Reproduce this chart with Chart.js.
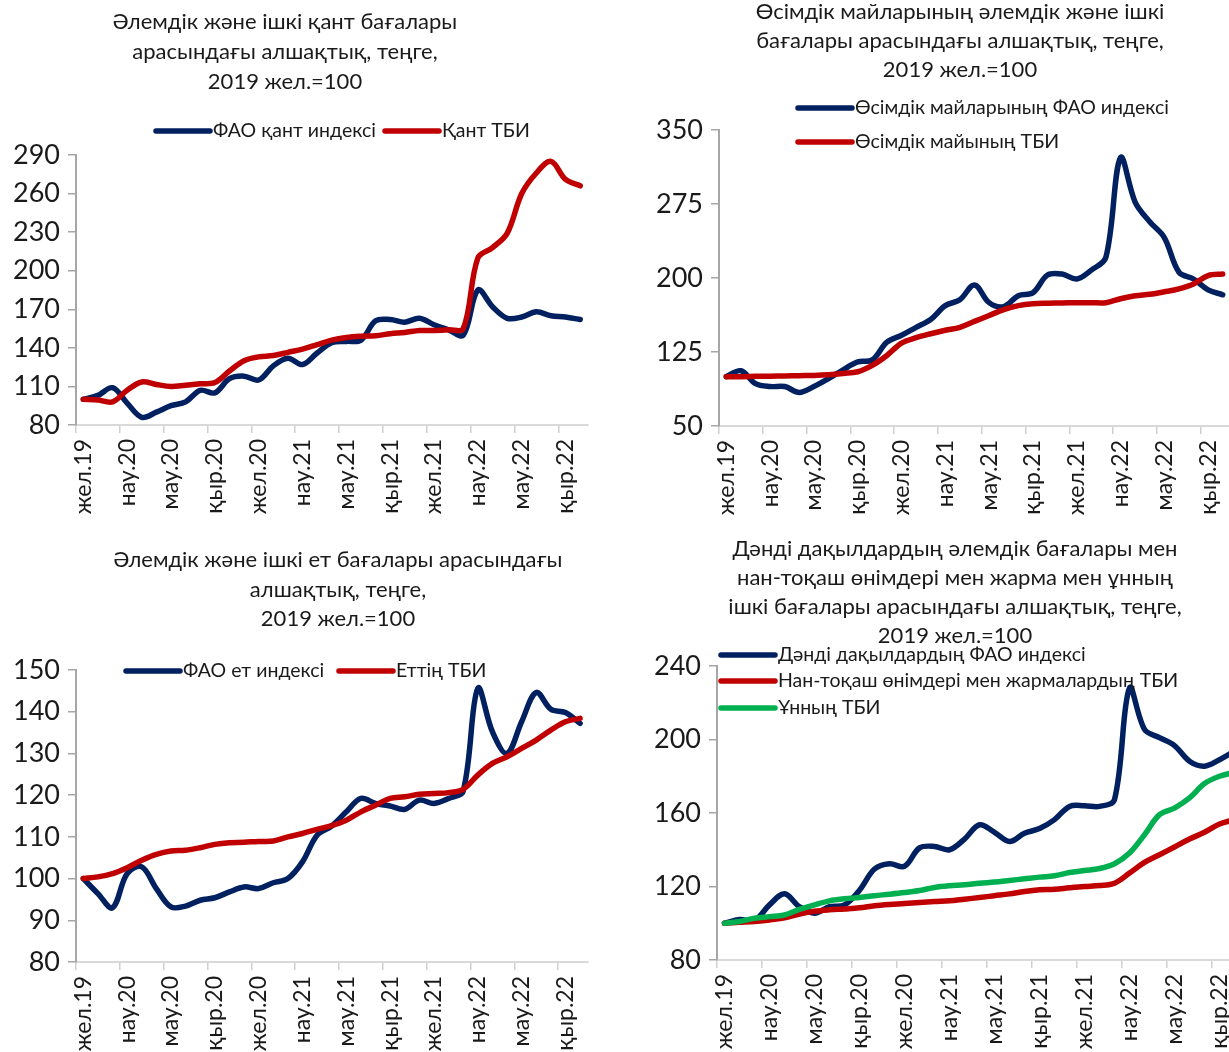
<!DOCTYPE html>
<html>
<head>
<meta charset="utf-8">
<script src="https://cdn.jsdelivr.net/npm/chart.js@4.4.1/dist/chart.umd.min.js"></script>
<style>
    html, body { margin: 0; padding: 0; background: #fff; overflow: hidden; width: 1229px; height: 1052px; }
    canvas { position: absolute; }
</style>
</head>
<body>
<canvas id="sugarChart"></canvas>
<canvas id="oilChart"></canvas>
<canvas id="meatChart"></canvas>
<canvas id="grainChart"></canvas>
<script>
// ===== Price gap charts, Dec 2019 = 100 =====

const months = [
    'жел.19', 'қаң.20', 'ақп.20', 'нау.20', 'сәу.20', 'мам.20', 'мау.20', 'шіл.20', 'там.20', 'қыр.20', 'қаз.20', 'қар.20',
    'жел.20', 'қаң.21', 'ақп.21', 'нау.21', 'сәу.21', 'мам.21', 'мау.21', 'шіл.21', 'там.21', 'қыр.21', 'қаз.21', 'қар.21',
    'жел.21', 'қаң.22', 'ақп.22', 'нау.22', 'сәу.22', 'мам.22', 'мау.22', 'шіл.22', 'там.22', 'қыр.22', 'қаз.22'
];

// Sugar
const sugarFao = [100, 103, 109, 97, 86, 90, 95, 98, 107, 105, 116, 118, 115, 126, 132, 127, 136, 144, 145, 146,
    161, 162, 160, 163, 158, 154, 150, 185, 172, 163, 164, 168, 165, 164, 162];
const sugarCpi = [100, 99.5, 98, 107, 113.5, 111.5, 110, 111, 112, 113, 122, 130, 133, 134, 136.5, 139, 142.5, 146, 148, 149,
    149.5, 151, 152, 153.5, 153.5, 154, 155, 210, 218, 229, 260, 276, 285, 271, 266];

// Vegetable oils
const oilFao = [100, 106, 93, 90, 90, 84, 90, 98, 107, 115, 117, 135, 142, 150, 158, 172, 178, 193, 175, 171,
    182, 185, 203, 204, 199, 208, 221, 322, 277, 257, 241, 206, 199, 188, 183];
const oilCpi = [100, 100, 100.3, 100.5, 100.7, 101, 101.3, 102, 103.3, 105, 111.5, 121.5, 134, 139.5, 143.5, 147, 150, 156, 162, 168,
    172, 174, 174.5, 174.7, 175, 175, 175, 179, 182, 183.5, 186, 189, 194, 202.5, 204];

// Meat
const meatFao = [100, 96.4, 93, 101.2, 102.8, 97.6, 93.2, 93.4, 94.8, 95.4, 96.8, 98, 97.6, 99, 100, 104, 110.4, 112.6, 116, 119.2,
    118, 117.4, 116.6, 118.8, 118, 119.2, 121, 145.6, 135.2, 130, 137.6, 144.6, 140.6, 139.8, 137.2];
const meatCpi = [100, 100.4, 101.2, 102.6, 104.4, 105.8, 106.6, 106.8, 107.4, 108.2, 108.6, 108.7, 108.9, 109, 110, 110.8, 111.8, 112.7, 114, 116,
    117.6, 119.2, 119.6, 120.2, 120.4, 120.6, 121.4, 124.8, 127.6, 129.2, 131.2, 133.2, 135.6, 137.6, 138.4];

// Grains, bread and flour
const grainFao = [100, 102, 101.5, 110, 116, 109, 105.5, 109, 110, 118, 129.5, 132.4, 131, 141, 141.8, 140, 145.8, 153.6, 149.5, 144.5,
    149, 151.5, 156.4, 163.6, 164, 163.6, 167.3, 228, 205.5, 201, 196.7, 188.2, 185.5, 189, 193.6];
const breadCpi = [100, 100.5, 101, 101.8, 103, 105, 106.5, 107.3, 107.8, 108.4, 109.5, 110.2, 110.7, 111.3, 111.8, 112.2, 113.1, 114, 115, 116,
    117.3, 118.2, 118.5, 119.3, 120, 120.5, 121.8, 127.3, 133.1, 137.3, 141.5, 145.8, 149.5, 154, 156.4];
const flourCpi = [100, 101, 102.7, 103.6, 104.5, 107.6, 110, 112.2, 113.3, 114, 115, 115.8, 116.7, 117.8, 119.5, 120.4, 120.9, 121.8, 122.4, 123.3,
    124.2, 125.1, 125.8, 127.6, 128.7, 129.8, 132.4, 138.2, 148.2, 159.1, 162.7, 168.2, 176, 180, 182.2];

const BLUE = '#002060';
const RED = '#C00000';
const GREEN = '#00B050';
const FONT = 'Lato, "Open Sans", sans-serif';
const TEXT = '#1a1a1a';

// Titles and legends drawn on the canvas at fixed page positions
const panelText = {
    id: 'panelText',
    afterDraw(chart, args, opts) {
        const ctx = chart.ctx;
        ctx.save();
        ctx.fillStyle = TEXT;
        ctx.textBaseline = 'middle';
        ctx.textAlign = 'center';
        ctx.font = `22px ${FONT}`;
        opts.title.lines.forEach((line, i) => {
            ctx.fillText(line, opts.title.x - opts.ox, opts.title.y + i * opts.title.gap - opts.oy);
        });
        ctx.textAlign = 'left';
        ctx.font = `19.5px ${FONT}`;
        opts.legend.forEach(item => {
            const y = item.y - opts.oy;
            ctx.strokeStyle = item.color;
            ctx.lineWidth = 5.5;
            ctx.lineCap = 'round';
            ctx.beginPath();
            ctx.moveTo(item.x - opts.ox, y);
            ctx.lineTo(item.x + 54 - opts.ox, y);
            ctx.stroke();
            ctx.fillText(item.text, item.x + 57 - opts.ox, y);
        });
        ctx.restore();
    }
};

function buildChart(id, box, area, yRange, series, title, legend) {
    const canvas = document.getElementById(id);
    canvas.width = box.w;
    canvas.height = box.h;
    canvas.style.left = box.x + 'px';
    canvas.style.top = box.y + 'px';
    const xHeight = 90;

    return new Chart(canvas, {
        type: 'line',
        data: {
            labels: months,
            datasets: series.map(s => ({
                label: s.label,
                data: s.data,
                borderColor: s.color,
                borderWidth: 5.5,
                borderCapStyle: 'round',
                borderJoinStyle: 'round',
                pointRadius: 0,
                tension: 0.35,
                fill: false,
                order: s.order
            }))
        },
        options: {
            responsive: false,
            animation: false,
            layout: {
                padding: {
                    left: 0,
                    top: area.top - box.y,
                    right: box.x + box.w - area.right,
                    bottom: box.y + box.h - area.bottom - xHeight
                }
            },
            scales: {
                x: {
                    offset: true,
                    afterFit: s => { s.height = xHeight; },
                    grid: {
                        offset: true,
                        drawOnChartArea: false,
                        tickLength: 8,
                        lineWidth: 1.5,
                        color: ctx => (ctx.index % 3 === 0 ? '#d0d0d0' : 'rgba(0,0,0,0)')
                    },
                    border: { color: '#d9d9d9', width: 2 },
                    ticks: {
                        autoSkip: false,
                        maxRotation: 90,
                        minRotation: 90,
                        padding: 6,
                        color: TEXT,
                        font: { family: FONT, size: 23 },
                        callback: function (value, index) {
                            return index % 3 === 0 ? this.getLabelForValue(value) : '';
                        }
                    }
                },
                y: {
                    min: yRange.min,
                    max: yRange.max,
                    afterFit: s => { s.width = area.left - box.x; },
                    grid: {
                        drawOnChartArea: false,
                        tickLength: 8,
                        lineWidth: 1.5,
                        color: '#a6a6a6'
                    },
                    border: { color: '#a6a6a6', width: 2 },
                    ticks: {
                        stepSize: yRange.step,
                        padding: 8,
                        color: TEXT,
                        font: { family: FONT, size: 27 }
                    }
                }
            },
            plugins: {
                legend: { display: false },
                tooltip: { enabled: false },
                panelText: { title, legend, ox: box.x, oy: box.y }
            }
        },
        plugins: [panelText]
    });
}

buildChart('sugarChart',
    { x: 0, y: 0, w: 614, h: 526 },
    { left: 76, top: 155, right: 601, bottom: 425 },
    { min: 80, max: 290, step: 30 },
    [
        { label: 'ФАО қант индексі', data: sugarFao, color: BLUE, order: 1 },
        { label: 'Қант ТБИ', data: sugarCpi, color: RED, order: 0 }
    ],
    { lines: ['Әлемдік және ішкі қант бағалары', 'арасындағы алшақтық, теңге,', '2019 жел.=100'], x: 285, y: 22, gap: 30 },
    [
        { text: 'ФАО қант индексі', color: BLUE, x: 156, y: 131 },
        { text: 'Қант ТБИ', color: RED, x: 385, y: 131 }
    ]
);

buildChart('oilChart',
    { x: 614, y: 0, w: 650, h: 526 },
    { left: 719, top: 130, right: 1230, bottom: 426 },
    { min: 50, max: 350, step: 75 },
    [
        { label: 'Өсімдік майларының ФАО индексі', data: oilFao, color: BLUE, order: 1 },
        { label: 'Өсімдік майының ТБИ', data: oilCpi, color: RED, order: 0 }
    ],
    { lines: ['Өсімдік майларының әлемдік және ішкі', 'бағалары арасындағы алшақтық, теңге,', '2019 жел.=100'], x: 960, y: 12, gap: 29 },
    [
        { text: 'Өсімдік майларының ФАО индексі', color: BLUE, x: 798, y: 108 },
        { text: 'Өсімдік майының ТБИ', color: RED, x: 798, y: 142 }
    ]
);

buildChart('meatChart',
    { x: 0, y: 526, w: 614, h: 526 },
    { left: 76, top: 670, right: 590, bottom: 962 },
    { min: 80, max: 150, step: 10 },
    [
        { label: 'ФАО ет индексі', data: meatFao, color: BLUE, order: 1 },
        { label: 'Еттің ТБИ', data: meatCpi, color: RED, order: 0 }
    ],
    { lines: ['Әлемдік және ішкі ет бағалары арасындағы', 'алшақтық, теңге,', '2019 жел.=100'], x: 338, y: 560, gap: 29.5 },
    [
        { text: 'ФАО ет индексі', color: BLUE, x: 126, y: 671 },
        { text: 'Еттің ТБИ', color: RED, x: 339, y: 671 }
    ]
);

buildChart('grainChart',
    { x: 614, y: 526, w: 660, h: 526 },
    { left: 717, top: 666, right: 1242, bottom: 960 },
    { min: 80, max: 240, step: 40 },
    [
        { label: 'Дәнді дақылдардың ФАО индексі', data: grainFao, color: BLUE, order: 2 },
        { label: 'Нан-тоқаш өнімдері мен жармалардың ТБИ', data: breadCpi, color: RED, order: 1 },
        { label: 'Ұнның ТБИ', data: flourCpi, color: GREEN, order: 0 }
    ],
    { lines: ['Дәнді дақылдардың әлемдік бағалары мен', 'нан-тоқаш өнімдері мен жарма мен ұнның', 'ішкі бағалары арасындағы алшақтық, теңге,', '2019 жел.=100'], x: 955, y: 549, gap: 29 },
    [
        { text: 'Дәнді дақылдардың ФАО индексі', color: BLUE, x: 721, y: 655 },
        { text: 'Нан-тоқаш өнімдері мен жармалардың ТБИ', color: RED, x: 721, y: 681 },
        { text: 'Ұнның ТБИ', color: GREEN, x: 721, y: 708 }
    ]
);
</script>
</body>
</html>
